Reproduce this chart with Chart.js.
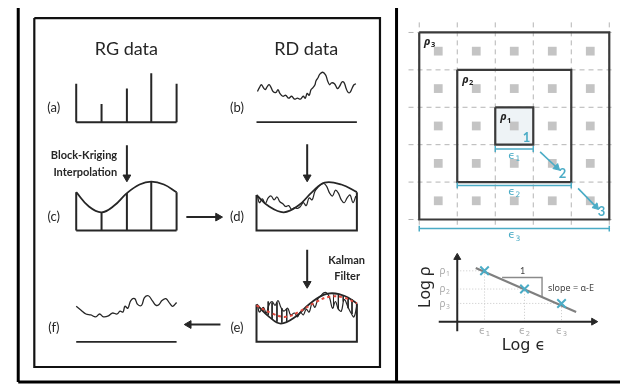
<!DOCTYPE html>
<html>
<head>
<meta charset="utf-8">
<title>RG / RD data merging and box counting</title>
<script src="https://cdn.jsdelivr.net/npm/chart.js@4.4.1/dist/chart.umd.min.js"></script>
<style>
body { margin: 0; background: #fff; }
#fig { display: block; }
</style>
</head>
<body>
<canvas id="fig" width="628" height="392"></canvas>
<script>
// ---- left panel : RG / RD data ----
var gaugeX = [70, 96, 122, 147, 173];
var gaugeTop = [79, 100, 84, 68, 79];
var krigingCurve = [[70,192],[83,207],[96,213],[109,206],[122,193],[135,184],[147,181],[160,184],[173,192]];
var radarB = [[256,87],[258,83],[260,80],[262,83],[264,85],[266,82],[268,80],[270,83],[272,87],[275,88],[277,85],[279,89],[282,92],[285,91],[288,94],[291,92],[294,95],[297,94],[300,95],[303,92],[305,94],[307,89],[309,91],[311,85],[313,83],[315,80],[316,76],[318,73],[320,69],[323,67],[326,70],[328,76],[330,80],[332,78],[335,79],[338,84],[340,82],[343,77],[345,78],[347,84],[349,88],[351,88],[353,84],[355,80],[357,79]];
var curveD = [[255,195],[268,207],[283,213],[298,206],[312,192],[325,182],[342,184],[358,192]];
var radarD = [[256,196],[258,203],[261,199],[264,204],[267,198],[270,196],[273,200],[276,197],[279,202],[282,204],[285,207],[288,206],[291,210],[294,208],[297,209],[300,207],[303,203],[306,206],[309,198],[312,200],[315,191],[318,187],[321,184],[324,183],[327,186],[330,193],[333,196],[336,190],[339,193],[342,200],[345,203],[348,198],[351,195],[354,203],[357,196]];
var curveE = [[255,309],[268,322],[280,329],[295,322],[310,308],[327,298],[345,300],[358,308]];
var kalmanE = [[255,310],[270,318],[285,322],[300,316],[315,307],[330,301],[345,302],[358,308]];
var radarE = [[256,309],[258,317],[262,312],[265,318],[268,309],[271,306],[274,310],[277,305],[280,312],[283,316],[287,313],[290,320],[294,318],[297,322],[300,317],[303,320],[306,314],[309,317],[312,308],[315,312],[318,303],[321,300],[324,297],[327,297],[330,302],[333,313],[336,306],[339,314],[342,316],[345,304],[349,312],[352,318],[355,322],[358,310]];
var hatchE = [[262,312,317],[267,306,320],[271,307,324],[276,307,327],[281,313,328],[286,314,327],[334,299,312],[339,299,314],[344,300,306],[349,302,313],[353,304,319]];
var mergedF = [[70,311],[75,315],[80,319],[85,320],[90,322],[94,319],[98,322],[103,321],[107,318],[112,319],[115,316],[118,317],[120,311],[123,313],[126,305],[130,303],[133,309],[137,310],[140,302],[144,300],[148,305],[152,310],[155,309],[158,305],[162,303],[166,308],[169,311],[173,307]];

// ---- right panel : box counting ----
var gridX = [422, 461, 500, 539, 578, 617];
var gridY = [25.5, 64.5, 103.5, 142.5, 181.5, 220.5];
var cellX = [441.5, 480.5, 519.5, 558.5, 597.5];
var cellY = [45, 84, 123, 162, 201];
var logEps = [489, 530, 568];
var logRho = [274, 293, 308];
var fitLine = [[480,271],[583,317]];

var INK = '#262626', CYAN = '#4bacc6', GREY = '#8a8a8a';
var datasets = [];

function pts(list) {
  return list.map(function (p) { return p ? { x: p[0], y: p[1] } : { x: null, y: null }; });
}
function add(list, color, width, extra) {
  var ds = {
    data: pts(list), showLine: true, borderColor: color, borderWidth: width,
    pointRadius: 0, fill: false, tension: 0, clip: false, spanGaps: false
  };
  datasets.push(Object.assign(ds, extra || {}));
}
function segs(list) {
  var out = [];
  list.forEach(function (s, i) { if (i) out.push(null); out.push.apply(out, s); });
  return out;
}
function arrow(from, tip, color, width, r) {
  var dx = tip[0] - from[0], dy = tip[1] - from[1], len = Math.sqrt(dx * dx + dy * dy);
  var end = [tip[0] - dx / len * r, tip[1] - dy / len * r];
  var ang = Math.atan2(dx, -dy) * 180 / Math.PI;
  add([from, end], color, width, {
    pointRadius: [0, r], pointStyle: 'triangle', pointRotation: [0, ang],
    pointBackgroundColor: color, pointBorderColor: color, pointBorderWidth: 1
  });
}
function rect(x0, y0, x1, y1) { return [[x0,y0],[x1,y0],[x1,y1],[x0,y1],[x0,y0]]; }
function bracket(x0, x1, y) { return segs([[[x0,y],[x1,y]], [[x0,y-3],[x0,y+3]], [[x1,y-3],[x1,y+3]]]); }

// table frame
add(segs([[[10.5,0],[10.5,390]], [[10.5,390],[628,390]], [[398.7,0],[398.7,390]]]), '#000', 3);
add(rect(27, 10.5, 381.7, 374.3), '#111', 2.2);

// (a) rain gauges
add(segs([[[70,119],[173,119]]].concat(gaugeX.map(function (x, i) { return [[x,119],[x,gaugeTop[i]]]; }))), INK, 2);
// (b) radar
add([[255,119],[358,119]], INK, 1.8);
add(radarB, INK, 1.3, { tension: 0.4 });
// (c) block kriging
add(segs([[[70,232],[173,232]]].concat(gaugeX.map(function (x, i) { return [[x,232],[x,krigingCurve[i*2][1]]]; }))), INK, 2);
add(krigingCurve, INK, 1.8, { tension: 0.4 });
// (d)
add([[255,195],[255,232],[358,232],[358,192]], INK, 2);
add(curveD, INK, 1.8, { tension: 0.4 });
add(radarD, INK, 1.2, { tension: 0.4 });
// (e)
add([[255,309],[255,348],[358,348],[358,308]], INK, 2);
add(segs(hatchE.map(function (h) { return [[h[0],h[1]],[h[0],h[2]]]; })), INK, 1);
add(curveE, INK, 1.8, { tension: 0.4 });
add(radarE, INK, 1.2, { tension: 0.4 });
add(kalmanE, '#e0483c', 2, { tension: 0.4, borderDash: [3, 3] });
// (f)
add([[70,348],[173,348]], INK, 1.8);
add(mergedF, INK, 1.3, { tension: 0.4 });
// flow arrows
arrow([122,143], [122,181], INK, 2, 4.5);
arrow([307,142], [307,181], INK, 2, 4.5);
arrow([183,218], [220,218], INK, 2, 4.5);
arrow([307,252], [307,292], INK, 2, 4.5);
arrow([218,330], [181,330], INK, 2, 4.5);

// right panel: dashed grid
add(segs(gridX.map(function (x) { return [[x,15],[x,226]]; }).concat(gridY.map(function (y) { return [[411,y],[622,y]]; }))), '#b4b4b4', 1, { borderDash: [5, 4] });
// inner box fill
add(rect(500, 103.5, 539, 142.5), 'rgba(0,0,0,0)', 0, { fill: 'shape', backgroundColor: '#eef3f6' });
// grey cells
var cells = [];
cellY.forEach(function (y) { cellX.forEach(function (x) { cells.push([x, y]); }); });
add(cells, 'rgba(0,0,0,0)', 0, { showLine: false, pointRadius: 6.2, pointStyle: 'rect', pointBackgroundColor: '#c4c4c4', pointBorderWidth: 0 });
// boxes
add(rect(gridX[0], gridY[0], gridX[5], gridY[5]), '#3a3a3a', 2.2);
add(rect(gridX[1], gridY[1], gridX[4], gridY[4]), '#3a3a3a', 2.2);
add(rect(gridX[2], gridY[2], gridX[3], gridY[3]), '#3a3a3a', 2.2);
// epsilon brackets and arrows
add(bracket(500, 539, 147), CYAN, 1.5);
add(bracket(461, 578, 185), CYAN, 1.5);
add(bracket(422, 617, 230), CYAN, 1.5);
arrow([546,150], [566,169], CYAN, 1.6, 4);
arrow([585,188], [606,210], CYAN, 1.6, 4);

// log-log plot
add(segs(logEps.map(function (x, i) { return [[461,logRho[i]],[x,logRho[i]],[x,327]]; })), '#c8c8c8', 1, { borderDash: [1, 2] });
arrow([461,337], [461,256], INK, 2, 4);
arrow([442,327], [605,327], INK, 2, 4);
add([[507,281],[548,281],[548,301]], GREY, 1.4);
add(fitLine, '#7f7f7f', 2.2);
add(logEps.map(function (x, i) { return [x, logRho[i]]; }), CYAN, 2,
  { showLine: false, pointRadius: 6, pointStyle: 'crossRot', pointBorderColor: CYAN, pointBorderWidth: 2 });

datasets.forEach(function (d, i) { d.order = -i; });

// text: [text, x, y, font, colour, align, rotation]  ("_" marks a subscript)
var notes = [
  ['RG data', 121.5, 43, '18px Lato', INK],
  ['RD data', 306, 43, '18px Lato', INK],
  ['(a)', 47, 104, '13px Lato', INK], ['(b)', 235, 104, '13px Lato', INK],
  ['(c)', 47, 218, '13px Lato', INK], ['(d)', 235, 218, '13px Lato', INK],
  ['(e)', 235, 333, '13px Lato', INK], ['(f)', 47, 333, '13px Lato', INK],
  ['Block-Kriging', 112, 154, 'bold 11px Lato', INK, 'right'],
  ['Interpolation', 112, 171, 'bold 11px Lato', INK, 'right'],
  ['Kalman', 347.5, 263, 'bold 11px Lato', INK], ['Filter', 348, 280, 'bold 11px Lato', INK],
  ['ρ_3', 427, 35, 'bold italic 11px "Noto Sans"', '#222', 'left'],
  ['ρ_2', 466, 75, 'bold italic 11px "Noto Sans"', '#222', 'left'],
  ['ρ_1', 505, 114, 'bold italic 11px "Noto Sans"', '#222', 'left'],
  ['1', 532, 135, 'bold 13px Lato', CYAN], ['2', 569, 173, 'bold 13px Lato', CYAN], ['3', 609, 212, 'bold 13px Lato', CYAN],
  ['ϵ_1', 519.5, 154, '11px "DejaVu Sans"', CYAN], ['ϵ_2', 519.5, 192, '11px "DejaVu Sans"', CYAN],
  ['ϵ_3', 519.5, 237, '11px "DejaVu Sans"', CYAN],
  ['ρ_1', 448, 274, '10px "Noto Sans"', '#aaa'], ['ρ_2', 448, 293, '10px "Noto Sans"', '#aaa'], ['ρ_3', 448, 309, '10px "Noto Sans"', '#aaa'],
  ['ϵ_1', 489, 337, '10px "DejaVu Sans"', '#aaa'], ['ϵ_2', 530, 337, '10px "DejaVu Sans"', '#aaa'], ['ϵ_3', 568, 337, '10px "DejaVu Sans"', '#aaa'],
  ['1', 528, 274, '9px Lato', '#444'],
  ['slope = α-E', 554, 292, '9px "Noto Sans"', '#444', 'left'],
  ['Log ρ', 428, 291, '16px "Noto Sans"', INK, 'center', -90],
  ['Log ϵ', 529, 352, '16px "DejaVu Sans"', INK]
];

var textPlugin = {
  id: 'notes',
  afterDatasetsDraw: function (chart) {
    var ctx = chart.ctx, xs = chart.scales.x, ys = chart.scales.y;
    notes.forEach(function (n) {
      var parts = n[0].split('_'), align = n[5] || 'center';
      ctx.save();
      ctx.translate(xs.getPixelForValue(n[1]), ys.getPixelForValue(n[2]));
      if (n[6]) ctx.rotate(n[6] * Math.PI / 180);
      ctx.fillStyle = n[4];
      ctx.textBaseline = 'middle';
      ctx.textAlign = 'left';
      ctx.font = n[3];
      var size = parseFloat(n[3].match(/(\d+(\.\d+)?)px/)[1]);
      var subFont = n[3].replace(/\d+(\.\d+)?px/, (size * 0.68).toFixed(1) + 'px').replace('italic ', '');
      var w1 = ctx.measureText(parts[0]).width, w2 = 0;
      if (parts[1]) { ctx.font = subFont; w2 = ctx.measureText(parts[1]).width + 0.5; }
      var w = w1 + w2;
      var x0 = align === 'center' ? -w / 2 : (align === 'right' ? -w : 0);
      ctx.font = n[3];
      ctx.fillText(parts[0], x0, 0);
      if (parts[1]) { ctx.font = subFont; ctx.fillText(parts[1], x0 + w1 + 0.5, size * 0.3); }
      ctx.restore();
    });
  }
};

new Chart(document.getElementById('fig'), {
  type: 'scatter',
  data: { datasets: datasets },
  options: {
    responsive: false,
    animation: false,
    events: [],
    devicePixelRatio: 1,
    layout: { padding: 0 },
    plugins: { legend: { display: false }, tooltip: { enabled: false } },
    scales: {
      x: { type: 'linear', min: 0, max: 628, display: false },
      y: { type: 'linear', min: 0, max: 392, reverse: true, display: false }
    }
  },
  plugins: [textPlugin]
});
</script>
</body>
</html>
